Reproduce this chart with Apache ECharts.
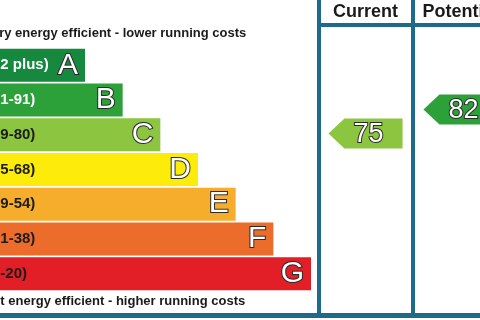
<!DOCTYPE html>
<html><head><meta charset="utf-8">
<script src="https://cdn.jsdelivr.net/npm/echarts@6/dist/echarts.min.js"></script>
<style>html,body{margin:0;padding:0;background:#fff;overflow:hidden;width:480px;height:320px;position:relative}
#c{position:absolute;left:-28px;top:0;width:540px;height:320px}</style>
</head><body><div id="c"></div>
<script>
// ---- data ----
const bands = ['A', 'B', 'C', 'D', 'E', 'F', 'G'];
const ranges = ['(92 plus)', '(81-91)', '(69-80)', '(55-68)', '(39-54)', '(21-38)', '(1-20)'];
const bandLower = [92, 81, 69, 55, 39, 21, 1];
const barLengths = [3, 4, 5, 6, 7, 8, 9];
const bandColors = ['#16893f', '#2ca13a', '#8cc540', '#fdeb0a', '#f6ad2c', '#ec6d2b', '#e21e26'];
const rangeLabelColors = ['#ffffff', '#ffffff', '#1c1c1c', '#1c1c1c', '#1c1c1c', '#1c1c1c', '#1c1c1c'];
const columns = ['Current', 'Potential'];
const ratings = [75, 82];
const topText = 'Very energy efficient - lower running costs';
const bottomText = 'Not energy efficient - higher running costs';

// ---- helpers ----
function bandOf(v) { for (let i = 0; i < bandLower.length; i++) if (v >= bandLower[i]) return i; return bandLower.length - 1; }
const FONT = '"Liberation Sans", Arial, sans-serif';
const LINE = '#1e6a8b';
const OFF = 28; // canvas is shifted left by this many pixels (the picture is cropped)

const chart = echarts.init(document.getElementById('c'), null, { renderer: 'canvas' });

const rangeData = barLengths.map((v, i) => ({
  value: v,
  itemStyle: { color: bandColors[i] },
  label: { color: rangeLabelColors[i] }
}));
const letterData = barLengths.map((v, i) => ({ value: v, name: bands[i] }));

chart.setOption({
  animation: false,
  grid: [
    { left: 0, top: 48, width: 339, height: 243 },
    { left: 318 + OFF, top: 48, width: 190, height: 243 }
  ],
  xAxis: [
    { gridIndex: 0, type: 'value', min: 0, max: 9, show: false },
    { gridIndex: 1, type: 'category', data: columns, position: 'top',
      axisLine: { show: false }, axisTick: { show: false }, splitLine: { show: false },
      axisLabel: { interval: 0, margin: 27, fontFamily: FONT, fontWeight: 'bold', fontSize: 18, color: '#1a1a1a' } }
  ],
  yAxis: [
    { gridIndex: 0, type: 'category', data: bands, inverse: true, show: false },
    { gridIndex: 1, type: 'value', min: 29, max: 100, show: false }
  ],
  graphic: [
    { type: 'rect', shape: { x: 317 + OFF, y: 0, width: 4, height: 318 }, style: { fill: LINE } },
    { type: 'rect', shape: { x: 411 + OFF, y: 0, width: 4, height: 318 }, style: { fill: LINE } },
    { type: 'rect', shape: { x: 317 + OFF, y: 23, width: 220, height: 4 }, style: { fill: LINE } },
    { type: 'rect', shape: { x: 0, y: 313, width: 540, height: 5 }, style: { fill: LINE } },
    { type: 'text', x: OFF - 16, y: 33, style: { text: topText, font: 'bold 13px ' + FONT, fill: '#1a1a1a', verticalAlign: 'middle' } },
    { type: 'text', x: OFF - 17, y: 301, style: { text: bottomText, font: 'bold 13px ' + FONT, fill: '#1a1a1a', verticalAlign: 'middle' } }
  ],
  series: [
    {
      type: 'bar', xAxisIndex: 0, yAxisIndex: 0, data: rangeData, barWidth: 33, barGap: '-100%',
      label: { show: true, position: 'insideLeft', distance: 15, formatter: p => ranges[p.dataIndex],
        fontFamily: FONT, fontWeight: 'bold', fontSize: 15 }
    },
    {
      type: 'bar', xAxisIndex: 0, yAxisIndex: 0, data: letterData, barWidth: 33, barGap: '-100%',
      itemStyle: { color: 'rgba(0,0,0,0)' },
      label: { show: true, position: 'insideRight', distance: 7, formatter: p => bands[p.dataIndex],
        fontFamily: FONT, fontSize: 30, color: '#ffffff', textBorderColor: '#2a2a2a', textBorderWidth: 2 }
    },
    {
      type: 'custom', xAxisIndex: 1, yAxisIndex: 1,
      data: ratings.map((r, i) => [i, r]),
      renderItem: function (params, api) {
        const c = api.coord([api.value(0), api.value(1)]);
        const bw = api.size([1, 0])[0];
        const w = bw * 0.78, h = 30, tip = 16;
        const x0 = c[0] - w / 2, x1 = c[0] + w / 2;
        const col = bandColors[bandOf(api.value(1))];
        return {
          type: 'group',
          children: [
            { type: 'polygon', shape: { points: [[x0, c[1]], [x0 + tip, c[1] - h / 2], [x1, c[1] - h / 2], [x1, c[1] + h / 2], [x0 + tip, c[1] + h / 2]] },
              style: { fill: col } },
            { type: 'text', style: { text: String(api.value(1)), x: c[0] + 3, y: c[1] + 1, align: 'center', verticalAlign: 'middle',
              font: '27px ' + FONT, fill: '#ffffff', stroke: '#2a2a2a', lineWidth: 2 } }
          ]
        };
      }
    }
  ]
});
</script>
</body></html>
